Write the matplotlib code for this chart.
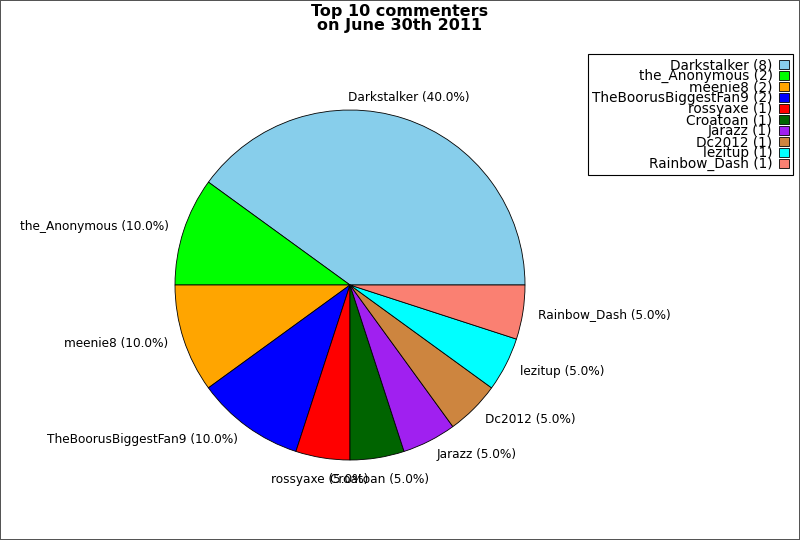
import numpy as np
import matplotlib
matplotlib.use('Agg')
from matplotlib import pyplot as plt

names = ['Darkstalker', 'the_Anonymous', 'meenie8', 'TheBoorusBiggestFan9', 'rossyaxe',
         'Croatoan', 'Jarazz', 'Dc2012', 'lezitup', 'Rainbow_Dash']
counts = [8, 2, 2, 2, 1, 1, 1, 1, 1, 1]
colors = ['#87ceeb', '#00ff00', '#ffa500', '#0000ff', '#ff0000',
          '#006400', '#a020f0', '#cd853f', '#00ffff', '#fa8072']

W, H = 800, 540
fig = plt.figure(figsize=(W / 100, H / 100), dpi=100)
fig.patch.set_edgecolor('#555555')
fig.patch.set_linewidth(1.2)

cx, cy, r = 350, 285, 175
ax = fig.add_axes([(cx - r) / W, (H - cy - r) / H, 2 * r / W, 2 * r / H])

total = sum(counts)
labels = ['%s (%.1f%%)' % (n, 100.0 * c / total) for n, c in zip(names, counts)]
wedges, texts = ax.pie(counts, colors=colors, labels=labels, startangle=0,
                       counterclock=True, labeldistance=1.09,
                       wedgeprops=dict(edgecolor='black', linewidth=0.6),
                       textprops=dict(fontsize=8.7))
ax.set_aspect('equal')
ax.set_xlim(-1, 1)
ax.set_ylim(-1, 1)

for w, t in zip(wedges, texts):
    ang = np.deg2rad((w.theta1 + w.theta2) / 2)
    c, s = np.cos(ang), np.sin(ang)
    if abs(c) < 0.35:
        t.set_ha('center')
    else:
        t.set_ha('left' if c > 0 else 'right')
    if s > 0.9:
        t.set_va('bottom')
    elif s < -0.9:
        t.set_va('top')
    else:
        t.set_va('center')

fig.text(0.5, 1 - 4 / H, 'Top 10 commenters\non June 30th 2011', ha='center', va='top',
         fontsize=11.5, fontweight='bold', linespacing=0.95)

leg_labels = ['%s (%d)' % (n, c) for n, c in zip(names, counts)]
leg = fig.legend(wedges, leg_labels, loc='upper right', bbox_to_anchor=(793 / W, 1 - 54 / H),
                 markerfirst=False, fontsize=9.8, labelspacing=-0.22, handlelength=0.7,
                 handleheight=0.7, handletextpad=0.5, borderpad=0.3, borderaxespad=0,
                 fancybox=False, framealpha=1, alignment='right')
leg.get_frame().set_edgecolor('black')
leg.get_frame().set_linewidth(0.8)
for t in leg.get_texts():
    t.set_ha('right')

fig.savefig('out.png', dpi=100, edgecolor=fig.get_edgecolor())
